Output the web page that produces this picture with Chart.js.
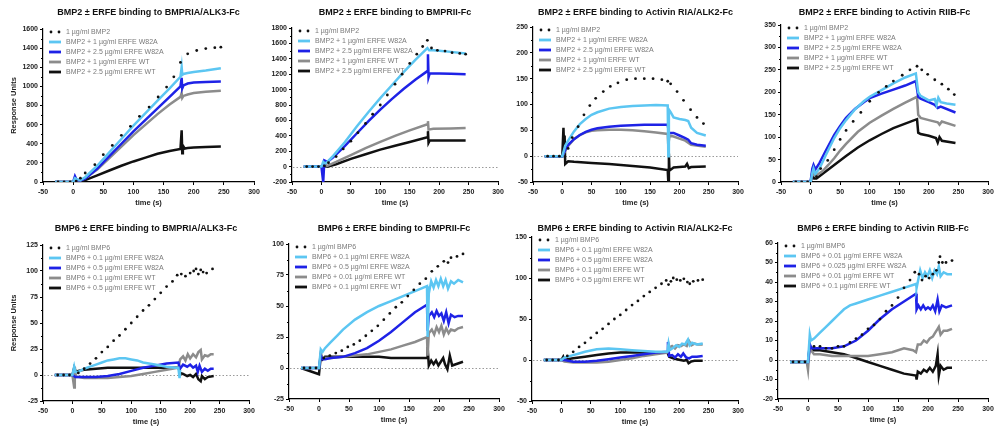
<!DOCTYPE html>
<html>
<head>
<meta charset="utf-8">
<script src="https://cdn.jsdelivr.net/npm/chart.js@4.4.1/dist/chart.umd.min.js"></script>
<style>
  html, body { margin: 0; padding: 0; background: #fff; }
  body { width: 997px; height: 432px; position: relative; overflow: hidden; }
  .panel { position: absolute; }
</style>
</head>
<body>
<script>
// ---------- legend / title texts ----------
const LEG_BMP2 = ["1 µg/ml BMP2", "BMP2 + 1 µg/ml ERFE W82A", "BMP2 + 2.5 µg/ml ERFE W82A", "BMP2 + 1 µg/ml ERFE WT", "BMP2 + 2.5 µg/ml ERFE WT"];
const LEG_BMP6_A = ["1 µg/ml BMP6", "BMP6 + 0.1 µg/ml ERFE W82A", "BMP6 + 0.5 µg/ml ERFE W82A", "BMP6 + 0.1 µg/ml ERFE WT", "BMP6 + 0.5 µg/ml ERFE WT"];
const LEG_BMP6_B = ["1 µg/ml BMP6", "BMP6 + 0.1 µg/ml ERFE W82A", "BMP6 + 0.5 µg/ml ERFE W82A", "BMP6 + 0.01 µg/ml ERFE WT", "BMP6 + 0.1 µg/ml ERFE WT"];
const LEG_BMP6_C = ["1 µg/ml BMP6", "BMP6 + 0.01 µg/ml ERFE W82A", "BMP6 + 0.025 µg/ml ERFE W82A", "BMP6 + 0.01 µg/ml ERFE WT", "BMP6 + 0.1 µg/ml ERFE WT"];

// ---------- data: [time (s), response units] ----------
// 1) BMP2 -> BMPRIA/ALK3-Fc
const p1Dots = [[-25,0],[-15,0],[-5,0],[5,10],[12,40],[20,94],[36,181],[50,286],[65,383],[80,488],[95,582],[110,687],[126,784],[141,889],[155,993],[167,1100],[178,1250],[190,1340],[205,1375],[220,1395],[235,1405],[245,1410]];
const p1Light = [[-30,0],[0,0],[3,40],[6,30],[12,20],[20,50],[40,170],[60,310],[80,450],[100,590],[120,720],[140,850],[160,980],[178,1100],[180,1200],[181,1120],[183,1130],[190,1140],[200,1150],[220,1165],[245,1190]];
const p1Blue = [[-30,0],[0,0],[3,60],[6,20],[12,15],[20,35],[40,140],[60,270],[80,400],[100,530],[120,650],[140,770],[160,890],[178,1000],[180,1090],[181,980],[183,1010],[190,1030],[200,1040],[220,1045],[245,1050]];
const p1Gray = [[-30,0],[0,0],[5,10],[12,15],[20,40],[40,130],[60,250],[80,370],[100,490],[120,600],[140,710],[160,810],[178,890],[180,930],[181,880],[183,900],[190,915],[200,930],[220,945],[245,955]];
const p1Black = [[-30,0],[0,0],[5,5],[12,5],[20,20],[40,70],[60,120],[80,170],[100,215],[120,255],[140,295],[160,325],[178,345],[180,540],[181,300],[182,380],[185,350],[190,355],[200,360],[220,365],[245,370]];

// 2) BMP2 -> BMPRII-Fc
const p2Dots = [[-25,0],[-15,0],[-5,0],[5,10],[12,50],[25,130],[37,230],[50,330],[62,440],[75,560],[87,680],[100,800],[112,930],[125,1070],[137,1200],[150,1340],[162,1460],[172,1560],[180,1640],[187,1540],[197,1510],[210,1500],[222,1480],[235,1470],[245,1460]];
const p2Light = [[-30,0],[0,0],[3,60],[6,40],[10,60],[20,140],[40,320],[60,520],[80,710],[100,890],[120,1060],[140,1230],[160,1390],[180,1540],[183,1510],[190,1510],[200,1505],[220,1490],[245,1470]];
const p2Blue = [[-30,0],[0,0],[3,-200],[5,80],[10,60],[20,120],[40,270],[60,430],[80,590],[100,740],[120,880],[140,1010],[160,1130],[180,1240],[181,1460],[182,1160],[184,1210],[200,1210],[220,1205],[245,1200]];
const p2Gray = [[-30,0],[0,0],[5,30],[10,10],[25,60],[50,150],[75,240],[100,320],[125,400],[150,470],[180,550],[181,590],[182,480],[190,490],[220,495],[245,500]];
const p2Black = [[-30,0],[0,0],[5,10],[10,0],[25,30],[50,100],[75,160],[100,220],[125,270],[150,320],[180,380],[181,460],[182,310],[184,340],[200,340],[245,340]];

// 3) BMP2 -> Activin RIA/ALK2-Fc
const p3Dots = [[-25,0],[-15,0],[-5,0],[10,15],[17,36],[27,57],[37,80],[47,98],[57,112],[70,125],[82,135],[95,142],[110,148],[125,150],[140,150],[155,150],[170,148],[180,145],[185,140],[196,125],[207,108],[219,90],[230,75],[241,63]];
const p3Light = [[-30,0],[0,0],[5,20],[10,30],[20,48],[30,62],[40,72],[50,80],[60,85],[80,92],[100,95],[120,97],[140,98],[160,99],[180,98],[181,0],[182,90],[185,85],[190,75],[200,72],[210,70],[215,68],[220,55],[230,45],[245,40]];
const p3Blue = [[-30,0],[0,0],[5,12],[10,22],[20,33],[30,41],[40,47],[50,51],[60,54],[80,57],[100,59],[120,60],[140,61],[160,61],[180,61],[182,45],[190,45],[200,40],[210,35],[215,32],[220,25],[230,22],[245,20]];
const p3Gray = [[-30,0],[0,0],[5,10],[10,20],[20,33],[30,41],[40,46],[50,49],[60,50],[80,51],[100,51],[120,50],[140,48],[160,46],[180,43],[181,20],[183,40],[190,38],[200,34],[210,30],[220,22],[245,18]];
const p3Black = [[-30,0],[0,0],[2,55],[3,20],[4,40],[5,-15],[10,-10],[20,-11],[50,-13],[80,-15],[100,-17],[130,-20],[150,-22],[180,-27],[181,-50],[182,5],[183,-28],[190,-22],[200,-21],[210,-20],[213,-15],[216,-23],[220,-21],[245,-20]];

// 4) BMP2 -> Activin RIIB-Fc
const p4Dots = [[-25,0],[-15,0],[-5,0],[10,12],[17,30],[29,48],[40,72],[50,95],[60,115],[72,135],[85,155],[100,180],[115,200],[128,213],[140,225],[155,238],[168,250],[180,258],[188,250],[198,240],[210,228],[222,218],[233,207],[243,195]];
const p4Light = [[-30,0],[0,0],[3,20],[5,30],[8,18],[15,30],[25,58],[40,98],[50,120],[60,138],[75,162],[90,180],[100,190],[120,205],[140,220],[160,233],[178,242],[182,200],[186,192],[200,182],[210,185],[213,172],[216,188],[220,178],[230,175],[245,172]];
const p4Blue = [[-30,0],[0,0],[3,30],[5,38],[8,28],[15,42],[25,68],[40,105],[50,125],[60,143],[75,163],[90,178],[100,187],[120,197],[140,206],[160,215],[178,225],[182,190],[186,186],[200,178],[210,172],[215,165],[220,168],[245,155]];
const p4Gray = [[-30,0],[0,0],[3,22],[6,15],[10,15],[20,24],[30,38],[40,53],[50,70],[60,85],[80,112],[100,132],[120,148],[140,163],[160,177],[180,190],[182,150],[186,143],[200,138],[215,133],[218,128],[222,135],[245,125]];
const p4Black = [[-30,0],[0,0],[3,15],[6,8],[10,8],[20,18],[30,28],[40,38],[50,48],[60,58],[80,77],[100,93],[120,107],[140,120],[160,130],[180,140],[182,110],[186,107],[200,103],[212,98],[215,88],[218,100],[222,92],[245,87]];

// 5) BMP6 -> BMPRIA/ALK3-Fc
const p5Dots = [[-25,0],[-15,0],[-5,0],[10,2],[20,6],[30,11],[40,16],[50,22],[60,27],[70,33],[80,38],[90,44],[100,50],[110,56],[120,62],[130,67],[140,73],[150,79],[160,85],[170,90],[178,96],[185,97],[192,95],[200,98],[206,100],[210,102],[214,97],[218,101],[222,99],[228,98],[238,102]];
const p5Light = [[-30,0],[0,0],[3,8],[5,3],[10,3],[20,6],[30,8],[40,10],[50,12],[60,14],[70,15],[80,16],[90,16],[100,15],[110,14],[120,12],[140,10],[160,8],[175,7],[180,7],[182,-3],[183,5]];
const p5Blue = [[-30,0],[0,0],[5,-2],[20,-2],[40,-2],[60,-1],[80,1],[100,4],[120,7],[140,9],[160,11],[180,12],[183,6],[188,10],[195,8],[200,10],[205,7],[210,9],[213,3],[216,9],[220,3],[225,6],[230,4],[235,6],[240,6]];
const p5Gray = [[-30,0],[0,0],[3,-12],[4,8],[6,-2],[10,-2],[20,-3],[40,-3],[60,-3],[80,-2],[100,-1],[120,1],[140,3],[160,5],[180,7],[183,15],[188,18],[192,14],[196,20],[200,16],[205,20],[210,17],[214,22],[218,24],[220,15],[225,19],[230,18],[235,20],[240,20]];
const p5Black = [[-30,0],[0,0],[3,7],[6,3],[10,4],[20,5],[40,6],[60,7],[80,7],[100,7],[120,7],[140,7],[160,7],[180,7],[183,2],[188,1],[195,-1],[200,0],[205,-2],[210,1],[214,-4],[218,-6],[220,-1],[225,-4],[230,-2],[240,-1]];

// 6) BMP6 -> BMPRII-Fc
const p6Dots = [[-25,0],[-15,0],[-5,0],[8,8],[18,10],[28,12],[38,14],[48,17],[58,19],[68,22],[78,26],[88,30],[98,34],[108,39],[118,44],[128,49],[138,53],[148,58],[158,63],[168,68],[178,72],[188,78],[198,82],[208,86],[215,85],[220,89],[230,90],[240,92]];
const p6Light = [[-30,0],[0,0],[3,15],[6,13],[10,16],[20,21],[30,26],[40,31],[60,39],[80,45],[100,50],[120,54],[140,58],[160,62],[180,66],[181,25],[183,60],[187,70],[191,65],[195,71],[199,66],[203,72],[207,66],[211,71],[215,64],[220,70],[225,68],[232,71],[240,69]];
const p6Blue = [[-30,0],[0,0],[3,10],[6,7],[10,7],[20,8],[40,9],[60,12],[80,16],[100,22],[120,29],[140,37],[160,45],[180,51],[181,30],[183,42],[188,45],[192,41],[196,46],[200,42],[204,44],[208,38],[212,45],[216,36],[220,43],[226,41],[232,42],[240,42]];
const p6Gray = [[-30,0],[0,0],[3,12],[6,8],[10,8],[20,8],[40,9],[60,10],[80,11],[100,13],[120,15],[140,18],[160,21],[180,25],[181,10],[183,28],[188,31],[192,27],[196,33],[200,29],[204,34],[208,27],[212,32],[216,28],[220,31],[226,30],[232,32],[240,33]];
const p6Black = [[-30,0],[0,-5],[3,10],[6,7],[10,9],[20,9],[40,9],[60,9],[80,9],[100,9],[120,8],[140,8],[160,8],[180,8],[181,17],[183,2],[187,6],[191,3],[195,6],[199,2],[203,5],[207,8],[210,3],[214,-1],[218,10],[222,2],[228,3],[234,4],[240,5]];

// 7) BMP6 -> Activin RIA/ALK2-Fc
const p7Dots = [[-25,0],[-15,0],[-5,0],[10,5],[20,10],[30,16],[40,21],[50,27],[60,33],[70,38],[80,44],[90,50],[100,55],[110,61],[120,67],[130,72],[140,78],[150,83],[160,88],[170,93],[178,97],[182,92],[186,96],[190,100],[196,98],[202,97],[208,99],[214,95],[218,93],[224,96],[232,97],[240,98]];
const p7Light = [[-30,0],[0,0],[5,3],[10,4],[20,6],[30,8],[40,10],[60,13],[80,14],[100,13],[120,12],[140,11],[160,10],[180,10],[182,20],[184,12],[190,15],[195,18],[200,16],[205,20],[210,19],[215,25],[218,18],[222,21],[230,19],[240,20]];
const p7Blue = [[-30,0],[0,0],[5,0],[20,-2],[40,-2],[60,-1],[80,1],[100,3],[120,5],[140,7],[160,9],[180,10],[181,22],[183,5],[188,6],[193,3],[198,7],[203,4],[207,8],[212,3],[217,2],[222,4],[230,4],[240,5]];
const p7Gray = [[-30,0],[0,0],[5,-2],[20,-3],[40,-3],[60,-3],[80,-2],[100,0],[120,2],[140,5],[160,7],[180,9],[183,15],[188,17],[193,14],[198,18],[203,17],[208,19],[213,17],[217,23],[221,18],[226,20],[232,19],[240,19]];
const p7Black = [[-30,0],[0,0],[3,4],[5,0],[10,1],[20,2],[40,4],[60,6],[80,8],[100,9],[120,9],[140,9],[160,9],[180,9],[183,4],[190,2],[196,1],[202,0],[208,-1],[213,0],[216,-4],[220,-2],[226,-1],[232,-1],[240,-1]];

// 8) BMP6 -> Activin RIIB-Fc
const p8Dots = [[-25,-1],[-15,-1],[-5,-1],[10,7],[20,7],[30,6],[40,6],[50,7],[60,7],[70,9],[80,11],[90,13],[100,16],[110,18],[120,21],[130,25],[140,28],[150,32],[160,37],[170,41],[178,45],[185,44],[190,41],[196,43],[202,42],[208,44],[214,46],[218,50],[220,53],[224,50],[230,50],[240,51]];
const p8Light = [[-30,-1],[0,-1],[3,13],[5,10],[10,11],[20,14],[30,17],[40,20],[50,23],[60,26],[70,28],[80,29],[90,30],[100,31],[120,33],[140,35],[160,37],[180,39],[181,37],[183,40],[187,46],[191,42],[195,45],[199,43],[203,46],[207,42],[211,46],[215,44],[218,48],[221,43],[226,45],[232,44],[240,44]];
const p8Blue = [[-30,-1],[0,-1],[3,8],[6,6],[20,6],[40,6],[60,7],[80,10],[100,15],[120,21],[140,26],[160,30],[180,34],[181,26],[184,28],[188,26],[192,28],[196,26],[200,27],[204,26],[208,28],[212,25],[216,31],[219,25],[223,28],[230,27],[240,28]];
const p8Gray = [[-30,-1],[-2,-1],[0,-5],[3,8],[5,5],[10,3],[20,3],[40,2],[60,2],[80,2],[100,2],[120,3],[140,4],[160,6],[175,5],[180,4],[183,8],[188,8],[193,10],[198,9],[203,11],[208,12],[212,14],[216,16],[218,17],[221,13],[226,15],[232,15],[240,16]];
const p8Black = [[-30,-1],[0,-1],[3,7],[5,5],[20,5],[40,4],[60,3],[80,1],[100,-1],[120,-3],[140,-5],[160,-7],[180,-8],[181,-10],[183,-6],[188,-7],[193,-5],[198,-6],[203,-4],[208,-6],[213,-3],[216,3],[218,-8],[221,-3],[226,-5],[232,-4],[240,-4]];

// ---------- styling ----------
const FONT = "Arial, 'Liberation Sans', sans-serif";
const COL_DOT = "#111111";
const COL_LIGHT = "#5cc6f2";
const COL_BLUE = "#1e22e6";
const COL_GRAY = "#8c8c8c";
const COL_BLACK = "#111111";
const PAD_R = 12;
const X_H = 27;
const ROW_TOP = [0, 212];
const TITLE_Y = [13, 17];

// panel layout: plot box [left, right, top, bottom] in page px
const panels = [
  { title: "BMP2 ± ERFE binding to BMPRIA/ALK3-Fc", legend: LEG_BMP2, series: [p1Dots, p1Light, p1Blue, p1Gray, p1Black], yMin: 0, yMax: 1600, yStep: 200, box: [43, 254, 29, 182], row: 0, yTitle: true },
  { title: "BMP2 ± ERFE binding to BMPRII-Fc", legend: LEG_BMP2, series: [p2Dots, p2Light, p2Blue, p2Gray, p2Black], yMin: -200, yMax: 1800, yStep: 200, box: [292, 498, 28, 182], row: 0 },
  { title: "BMP2 ± ERFE binding to Activin RIA/ALK2-Fc", legend: LEG_BMP2, series: [p3Dots, p3Light, p3Blue, p3Gray, p3Black], yMin: -50, yMax: 250, yStep: 50, box: [533, 738, 27, 182], row: 0 },
  { title: "BMP2 ± ERFE binding to Activin RIIB-Fc", legend: LEG_BMP2, series: [p4Dots, p4Light, p4Blue, p4Gray, p4Black], yMin: 0, yMax: 350, yStep: 50, box: [781, 988, 25, 182], row: 0 },
  { title: "BMP6 ± ERFE binding to BMPRIA/ALK3-Fc", legend: LEG_BMP6_A, series: [p5Dots, p5Light, p5Blue, p5Gray, p5Black], yMin: -25, yMax: 125, yStep: 25, box: [43, 249, 245, 401], row: 1, yTitle: true },
  { title: "BMP6 ± ERFE binding to BMPRII-Fc", legend: LEG_BMP6_B, series: [p6Dots, p6Light, p6Blue, p6Gray, p6Black], yMin: -25, yMax: 100, yStep: 25, box: [289, 499, 244, 399], row: 1 },
  { title: "BMP6 ± ERFE binding to Activin RIA/ALK2-Fc", legend: LEG_BMP6_A, series: [p7Dots, p7Light, p7Blue, p7Gray, p7Black], yMin: -50, yMax: 150, yStep: 50, box: [532, 738, 237, 401], row: 1 },
  { title: "BMP6 ± ERFE binding to Activin RIIB-Fc", legend: LEG_BMP6_C, series: [p8Dots, p8Light, p8Blue, p8Gray, p8Black], yMin: -20, yMax: 60, yStep: 10, box: [778, 988, 243, 399], row: 1 }
];

// ---------- plugins ----------
const prismDecor = {
  id: "prismDecor",
  beforeDatasetsDraw(chart, args, opts) {
    const { ctx, chartArea: a, scales } = chart;
    if (scales.y.min < 0) {
      const y0 = Math.round(scales.y.getPixelForValue(0)) + 0.5;
      ctx.save();
      ctx.strokeStyle = "#9a9a9a";
      ctx.lineWidth = 1;
      ctx.setLineDash([1.5, 2]);
      ctx.beginPath();
      ctx.moveTo(a.left + 1, y0);
      ctx.lineTo(a.right, y0);
      ctx.stroke();
      ctx.restore();
    }
  },
  afterDraw(chart, args, opts) {
    const { ctx, chartArea: a, scales } = chart;
    ctx.save();
    // minor ticks on the y axis
    ctx.strokeStyle = "#000";
    ctx.lineWidth = 1;
    const st = opts.yStep;
    for (let v = scales.y.min + st / 2; v < scales.y.max; v += st) {
      const y = Math.round(scales.y.getPixelForValue(v)) + 0.5;
      ctx.beginPath();
      ctx.moveTo(a.left - 2, y);
      ctx.lineTo(a.left, y);
      ctx.stroke();
    }
    // title
    ctx.fillStyle = "#111";
    ctx.font = `bold 9px ${FONT}`;
    ctx.textAlign = "center";
    ctx.textBaseline = "middle";
    ctx.fillText(opts.title, (a.left + a.right) / 2, opts.titleY);
    // legend
    ctx.font = `7px ${FONT}`;
    ctx.textAlign = "left";
    chart.data.datasets.forEach((ds, i) => {
      const y = a.top + 3 + i * 10;
      const x0 = a.left + 6;
      if (ds.showLine === false) {
        ctx.fillStyle = ds.backgroundColor;
        [x0 + 2, x0 + 10].forEach(cx => {
          ctx.beginPath();
          ctx.arc(cx, y, 1.4, 0, Math.PI * 2);
          ctx.fill();
        });
      } else {
        ctx.strokeStyle = ds.borderColor;
        ctx.lineWidth = 2.8;
        ctx.beginPath();
        ctx.moveTo(x0, y);
        ctx.lineTo(x0 + 12, y);
        ctx.stroke();
      }
      ctx.fillStyle = "#7a7a7a";
      ctx.fillText(ds.label, x0 + 17, y);
    });
    ctx.restore();
  }
};

function toXY(arr) {
  return arr.map(([x, y]) => ({ x, y }));
}

function lineSet(label, arr, color) {
  return {
    label, data: toXY(arr), showLine: true, borderColor: color, backgroundColor: color,
    borderWidth: 2.5, pointRadius: 0, tension: 0
  };
}

panels.forEach(p => {
  const [pl, pr, pt, pb] = p.box;
  const top = ROW_TOP[p.row];
  const yW = p.yTitle ? pl : 36;
  const left = pl - yW;
  const w = yW + (pr - pl) + PAD_R;
  const h = pb - top + X_H;

  const div = document.createElement("div");
  div.className = "panel";
  div.style.left = left + "px";
  div.style.top = top + "px";
  div.style.width = w + "px";
  div.style.height = h + "px";
  const cv = document.createElement("canvas");
  div.appendChild(cv);
  document.body.appendChild(div);

  const [dots, light, blue, gray, black] = p.series;
  const tickFont = { family: FONT, size: 7, weight: "bold" };

  new Chart(cv, {
    type: "scatter",
    data: {
      datasets: [
        { label: p.legend[0], data: toXY(dots), showLine: false, pointRadius: 1.4, pointHoverRadius: 0,
          backgroundColor: COL_DOT, borderWidth: 0 },
        lineSet(p.legend[1], light, COL_LIGHT),
        lineSet(p.legend[2], blue, COL_BLUE),
        lineSet(p.legend[3], gray, COL_GRAY),
        lineSet(p.legend[4], black, COL_BLACK)
      ]
    },
    options: {
      responsive: true,
      maintainAspectRatio: false,
      animation: false,
      events: [],
      layout: { padding: { top: pt - top, right: PAD_R, left: 0, bottom: 0 } },
      plugins: {
        legend: { display: false },
        title: { display: false },
        tooltip: { enabled: false },
        prismDecor: { title: p.title, titleY: TITLE_Y[p.row], yStep: p.yStep }
      },
      scales: {
        x: {
          type: "linear", min: -50, max: 300,
          afterFit: s => { s.height = X_H; },
          ticks: { stepSize: 50, autoSkip: false, maxRotation: 0, padding: 3, color: "#222", font: tickFont,
                   callback: v => String(v) },
          grid: { drawOnChartArea: false, drawTicks: true, tickLength: 3, color: "#000" },
          border: { display: true, color: "#000", width: 1.2 },
          title: { display: true, text: "time (s)", color: "#222", font: { family: FONT, size: 7.5, weight: "bold" },
                   padding: { top: 0, bottom: 2 } }
        },
        y: {
          type: "linear", min: p.yMin, max: p.yMax,
          afterFit: s => { s.width = yW; },
          ticks: { stepSize: p.yStep, autoSkip: false, padding: 2, color: "#222", font: tickFont,
                   callback: v => String(v) },
          grid: { drawOnChartArea: false, drawTicks: true, tickLength: 3, color: "#000" },
          border: { display: true, color: "#000", width: 1.2 },
          title: { display: !!p.yTitle, text: "Response Units", color: "#222",
                   font: { family: FONT, size: 7.5, weight: "bold" }, padding: { top: 9, bottom: 4 } }
        }
      }
    },
    plugins: [prismDecor]
  });
});
</script>
</body>
</html>
